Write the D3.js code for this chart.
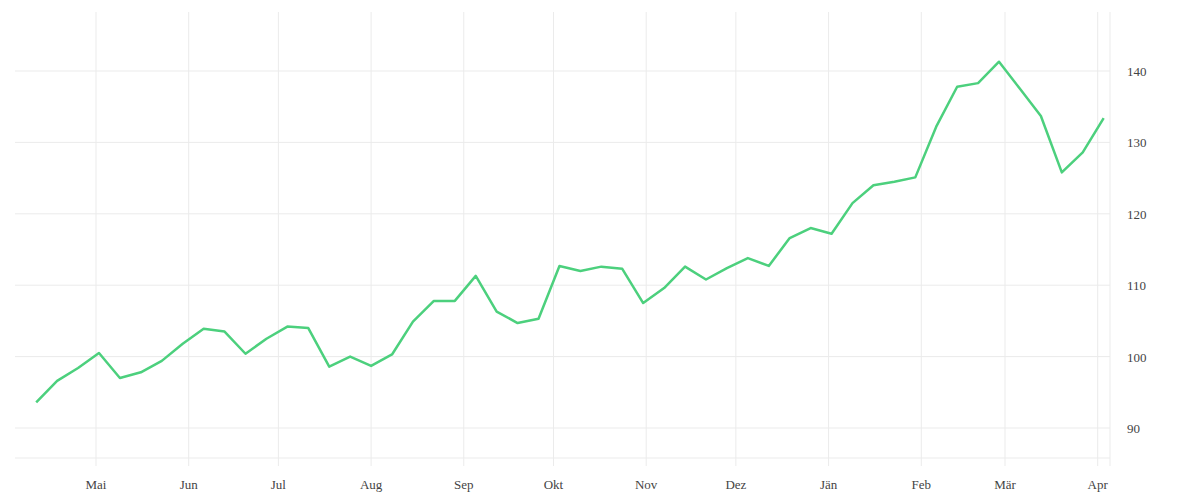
<!DOCTYPE html>
<html lang="de">
<head>
<meta charset="UTF-8">
<script src="https://d3js.org/d3.v7.min.js"></script>
<style>
  body { margin: 0; background: #fff; }
  text { font-family: "Liberation Serif", "DejaVu Serif", serif; }
</style>
</head>
<body>
<script>
    // weekly values, starting 2022-04-11
    const startDate = "2022-04-11"
    const values = [93.6, 96.6, 98.4, 100.5, 97.0, 97.8, 99.4, 101.8, 103.9, 103.5,
        100.4, 102.5, 104.2, 104.0, 98.6, 100.0, 98.7, 100.3, 104.9, 107.8,
        107.8, 111.3, 106.3, 104.7, 105.3, 112.7, 112.0, 112.6, 112.3, 107.5,
        109.6, 112.6, 110.8, 112.4, 113.8, 112.7, 116.6, 118.0, 117.2, 121.5,
        124.0, 124.5, 125.1, 132.2, 137.8, 138.3, 141.3, 137.5, 133.7, 125.8,
        128.6, 133.4]
    const monthLabels = ["Mai", "Jun", "Jul", "Aug", "Sep", "Okt", "Nov", "Dez", "Jän", "Feb", "Mär", "Apr"]
    const monthDates = ["2022-05-01", "2022-06-01", "2022-07-01", "2022-08-01", "2022-09-01", "2022-10-01",
        "2022-11-01", "2022-12-01", "2023-01-01", "2023-02-01", "2023-03-01", "2023-04-01"]
    const yTicks = [90, 100, 110, 120, 130, 140]

    const width = 1200, height = 500
    const plot = {left: 15, right: 1110, top: 12, bottom: 458}

    const t0 = new Date(startDate + "T00:00:00")
    const data = values.map((v, i) => ({date: d3.timeDay.offset(t0, i * 7), value: v}))
    const months = monthDates.map(d => new Date(d + "T00:00:00"))

    const xScale = d3.scaleTime()
        .domain([new Date("2022-05-01T00:00:00"), new Date("2023-03-01T00:00:00")])
        .range([96, 1005])
    const yScale = d3.scaleLinear()
        .domain([90, 140])
        .range([428, 71])

    const svg = d3.select("body").append("svg")
        .attr("width", width).attr("height", height)

    const grid = "#ebebeb"
    // horizontal grid
    svg.selectAll(".hgrid").data(yTicks).enter().append("line")
        .attr("x1", plot.left).attr("x2", plot.right)
        .attr("y1", d => yScale(d)).attr("y2", d => yScale(d))
        .attr("stroke", grid)
    // vertical grid
    svg.selectAll(".vgrid").data(months).enter().append("line")
        .attr("x1", d => xScale(d)).attr("x2", d => xScale(d))
        .attr("y1", plot.top).attr("y2", plot.bottom + 8)
        .attr("stroke", grid)
    // frame lines bottom + right
    svg.append("line").attr("x1", plot.left).attr("x2", plot.right)
        .attr("y1", plot.bottom).attr("y2", plot.bottom).attr("stroke", grid)
    svg.append("line").attr("x1", plot.right).attr("x2", plot.right)
        .attr("y1", plot.top).attr("y2", plot.bottom + 8).attr("stroke", grid)

    svg.selectAll(".mlab").data(months).enter().append("text")
        .attr("x", d => xScale(d)).attr("y", 489)
        .attr("text-anchor", "middle").attr("font-size", 13).attr("fill", "#444")
        .text((d, i) => monthLabels[i])

    svg.selectAll(".ylab").data(yTicks).enter().append("text")
        .attr("x", 1127).attr("y", d => yScale(d) + 5)
        .attr("font-size", 13).attr("fill", "#444")
        .text(d => d)

    const line = d3.line().x(d => xScale(d.date)).y(d => yScale(d.value))
    svg.append("path").datum(data)
        .attr("d", line)
        .attr("fill", "none")
        .attr("stroke", "#4cd07d")
        .attr("stroke-width", 2.5)
        .attr("stroke-linejoin", "round")
</script>
</body>
</html>
